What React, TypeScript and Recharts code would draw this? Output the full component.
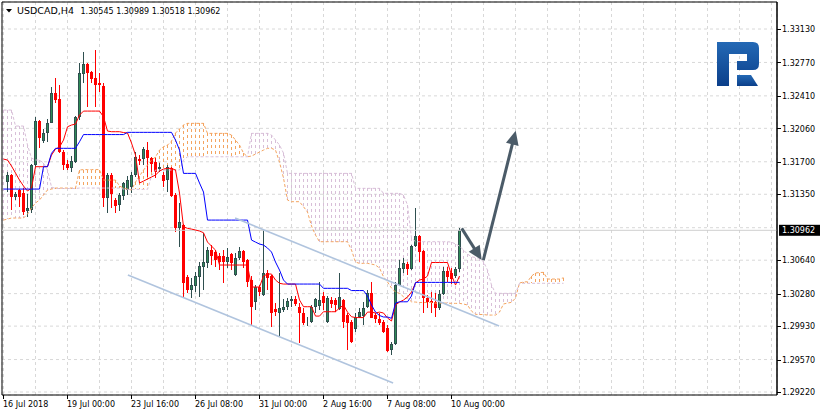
import React from 'react'
import { ComposedChart, Bar, Line, XAxis, YAxis, CartesianGrid, ReferenceLine, ReferenceArea } from 'recharts'

const W = 820
const H = 416
const X_AXIS_H = 21
const AXIS_Y = H - X_AXIS_H
const FONT = '"DejaVu Sans", Verdana, sans-serif'

// price scale as shown by the terminal
const Y_MIN = 1.29188
const Y_MAX = 1.33421
const Y_TICKS = [1.2922, 1.2957, 1.2993, 1.3028, 1.3064, 1.3099, 1.3135, 1.317, 1.3206, 1.3241, 1.3277, 1.3313]
const HIDDEN_TICK = 1.3099 // covered by the current price tag

// bar index scale (H4 bars, 4 px apart)
const X_MIN = -0.375
const X_MAX = 193.375
const X_GRID = [0, 8, 16, 24, 32, 40, 48, 56, 64, 72, 80, 88, 96, 104, 112, 120, 128, 136, 144, 152, 160, 168, 176, 184, 192]
const X_LABELS: Record<number, string> = {
  0: '16 Jul 2018',
  16: '19 Jul 00:00',
  32: '23 Jul 16:00',
  48: '26 Jul 08:00',
  64: '31 Jul 00:00',
  80: '2 Aug 16:00',
  96: '7 Aug 08:00',
  112: '10 Aug 00:00',
}

// OHLC, bar 0 is cut by the left edge
const OPEN = [null,
  1.31482, 1.31557, 1.31320, 1.31396, 1.31360, 1.31173, 1.31180, 1.31665, 1.32139, 1.31927,
  1.32006, 1.32120, 1.32437, 1.32372, 1.31808, 1.31676, 1.31629, 1.31700, 1.32179, 1.32645,
  1.32753, 1.32670, 1.32599, 1.32551, 1.32516, 1.31306, 1.31557, 1.31288, 1.31234, 1.31331,
  1.31396, 1.31428, 1.31557, 1.31729, 1.31726, 1.31826, 1.31743, 1.31700, 1.31618, 1.31557,
  1.31503, 1.31629, 1.31342, 1.30983, 1.31019, 1.30462, 1.30318, 1.30362, 1.30462, 1.30569,
  1.30612, 1.30749, 1.30728, 1.30688, 1.30688, 1.30623, 1.30706, 1.30480, 1.30660, 1.30742,
  1.30641, 1.30426, 1.30192, 1.30351, 1.30265, 1.30498, 1.30469, 1.30114, 1.30074, 1.30103,
  1.30139, 1.30203, 1.30218, 1.30139, 1.30074, 1.29960, 1.29977, 1.30139, 1.30146, 1.30254,
  1.29977, 1.30211, 1.30211, 1.30111, 1.30211, 1.30049, 1.29977, 1.29895, 1.30031, 1.30042,
  1.30139, 1.30283, 1.30049, 1.30006, 1.29977, 1.29906, 1.29672, 1.29734, 1.30372, 1.30545,
  1.30599, 1.30545, 1.30796, 1.30903, 1.30739, 1.30236, 1.30200, 1.30186, 1.30121, 1.30272,
  1.30523, 1.30502, 1.30472, 1.30545]

const HIGH = [null,
  1.31593, 1.31568, 1.31377, 1.31403, 1.31414, 1.31352, 1.31676, 1.32185, 1.32150, 1.32049,
  1.32157, 1.32508, 1.32599, 1.32527, 1.31826, 1.31719, 1.31762, 1.32193, 1.32760, 1.32885,
  1.32767, 1.32680, 1.32903, 1.32653, 1.32545, 1.31575, 1.31575, 1.31306, 1.31360, 1.31485,
  1.31546, 1.31589, 1.31808, 1.31772, 1.31855, 1.31916, 1.31754, 1.31737, 1.31686, 1.31593,
  1.31665, 1.31647, 1.31360, 1.31252, 1.31029, 1.30480, 1.30444, 1.30509, 1.30623, 1.30929,
  1.30785, 1.30803, 1.30749, 1.30714, 1.30749, 1.30774, 1.30714, 1.30714, 1.30785, 1.30749,
  1.30652, 1.30469, 1.30372, 1.30372, 1.30965, 1.30534, 1.30480, 1.30178, 1.30502, 1.30218,
  1.30229, 1.30254, 1.30254, 1.30175, 1.30121, 1.30031, 1.30157, 1.30229, 1.30408, 1.30297,
  1.30254, 1.30243, 1.30232, 1.30502, 1.30222, 1.30071, 1.29995, 1.30071, 1.30125, 1.30192,
  1.30318, 1.30401, 1.30071, 1.30067, 1.29995, 1.29941, 1.29762, 1.30408, 1.30641, 1.30660,
  1.30623, 1.30803, 1.31198, 1.30911, 1.30749, 1.30265, 1.30300, 1.30283, 1.30318, 1.30569,
  1.30569, 1.30555, 1.30566, 1.30989]

const LOW = [null,
  1.31377, 1.31180, 1.31288, 1.31216, 1.31126, 1.31108, 1.31145, 1.31647, 1.31845, 1.31899,
  1.31916, 1.32114, 1.32329, 1.31794, 1.31611, 1.31611, 1.31593, 1.31690, 1.32150, 1.32545,
  1.32293, 1.32551, 1.32293, 1.32454, 1.31216, 1.31145, 1.31198, 1.31145, 1.31173, 1.31288,
  1.31342, 1.31363, 1.31539, 1.31665, 1.31665, 1.31539, 1.31593, 1.31521, 1.31589, 1.31431,
  1.31377, 1.31317, 1.30946, 1.30785, 1.30246, 1.30283, 1.30229, 1.30300, 1.30246, 1.30318,
  1.30552, 1.30588, 1.30569, 1.30534, 1.30397, 1.30552, 1.30534, 1.30469, 1.30641, 1.30555,
  1.30354, 1.29941, 1.30103, 1.30254, 1.30254, 1.30318, 1.29923, 1.30038, 1.29815, 1.30085,
  1.30103, 1.30139, 1.30146, 1.29744, 1.29941, 1.29931, 1.29960, 1.30067, 1.30103, 1.30103,
  1.29963, 1.30125, 1.30081, 1.30103, 1.29906, 1.29672, 1.29744, 1.29866, 1.30017, 1.29941,
  1.30121, 1.30014, 1.29960, 1.29941, 1.29861, 1.29654, 1.29618, 1.29726, 1.30365, 1.30498,
  1.30480, 1.30534, 1.30785, 1.30623, 1.30067, 1.30121, 1.30067, 1.30031, 1.30103, 1.30265,
  1.30408, 1.30383, 1.30448, 1.30518]

const CLOSE = [null,
  1.31557, 1.31320, 1.31352, 1.31323, 1.31162, 1.31202, 1.31665, 1.32139, 1.31952, 1.32006,
  1.32120, 1.32437, 1.32365, 1.31808, 1.31665, 1.31629, 1.31711, 1.32179, 1.32653, 1.32753,
  1.32659, 1.32588, 1.32527, 1.32527, 1.31306, 1.31557, 1.31352, 1.31226, 1.31342, 1.31468,
  1.31503, 1.31557, 1.31754, 1.31713, 1.31834, 1.31737, 1.31676, 1.31593, 1.31647, 1.31496,
  1.31647, 1.31331, 1.30983, 1.31051, 1.30394, 1.30318, 1.30372, 1.30469, 1.30577, 1.30623,
  1.30749, 1.30685, 1.30641, 1.30620, 1.30623, 1.30677, 1.30606, 1.30660, 1.30739, 1.30620,
  1.30408, 1.30135, 1.30348, 1.30297, 1.30498, 1.30444, 1.30067, 1.30081, 1.30121, 1.30139,
  1.30203, 1.30218, 1.30168, 1.30067, 1.29960, 1.29977, 1.30139, 1.30218, 1.30211, 1.30175,
  1.30232, 1.30168, 1.30157, 1.30240, 1.29977, 1.29966, 1.29762, 1.30031, 1.30081, 1.30128,
  1.30283, 1.30020, 1.30006, 1.29960, 1.29869, 1.29661, 1.29734, 1.30372, 1.30552, 1.30606,
  1.30545, 1.30796, 1.30903, 1.30725, 1.30229, 1.30186, 1.30175, 1.30121, 1.30272, 1.30523,
  1.30462, 1.30437, 1.30545, 1.30962]

// Ichimoku lines
const TENKAN = [
  1.31729, 1.31719, 1.31654, 1.31579, 1.31503, 1.31439, 1.31385, 1.31417, 1.31647, 1.31647,
  1.31647, 1.31647, 1.31772, 1.31837, 1.31859, 1.31934, 1.32077, 1.32096, 1.32106, 1.32203,
  1.32246, 1.32246, 1.32246, 1.32246, 1.32246, 1.32185, 1.32031, 1.32024, 1.32024, 1.32024,
  1.32015, 1.32010, 1.31902, 1.31772, 1.31471, 1.31492, 1.31514, 1.31536, 1.31557, 1.31600,
  1.31622, 1.31629, 1.31629, 1.31611, 1.31363, 1.31000, 1.30983, 1.30975, 1.30965, 1.30954,
  1.30936, 1.30835, 1.30792, 1.30749, 1.30588, 1.30588, 1.30588, 1.30588, 1.30588, 1.30588,
  1.30588, 1.30588, 1.30351, 1.30351, 1.30351, 1.30469, 1.30491, 1.30491, 1.30426, 1.30391,
  1.30383, 1.30383, 1.30383, 1.30383, 1.30211, 1.30139, 1.30139, 1.30139, 1.30038, 1.30038,
  1.30085, 1.30085, 1.30085, 1.30085, 1.30125, 1.30157, 1.30081, 1.30031, 1.30022, 1.30022,
  1.30022, 1.30081, 1.30081, 1.30071, 1.30081, 1.30071, 1.30017, 1.29985, 1.30157, 1.30189,
  1.30211, 1.30243, 1.30297, 1.30394, 1.30426, 1.30437, 1.30469, 1.30615, 1.30615, 1.30615,
  1.30615, 1.30615, 1.30480, 1.30372, 1.30469]

const KIJUN = [
  1.31406, 1.31406, 1.31406, 1.31406, 1.31406, 1.31406, 1.31406, 1.31406, 1.31406, 1.31406,
  1.31647, 1.31647, 1.31791, 1.31845, 1.31845, 1.31845, 1.31845, 1.31845, 1.31845, 1.31916,
  1.31993, 1.31993, 1.31993, 1.31993, 1.31993, 1.31993, 1.31993, 1.31993, 1.31993, 1.31993,
  1.31993, 1.32017, 1.32017, 1.32017, 1.32017, 1.32017, 1.32017, 1.32017, 1.32017, 1.32017,
  1.32017, 1.32017, 1.32017, 1.31934, 1.31826, 1.31575, 1.31575, 1.31575, 1.31575, 1.31471,
  1.31374, 1.31072, 1.31072, 1.31072, 1.31072, 1.31072, 1.31072, 1.31072, 1.31072, 1.31072,
  1.31072, 1.31072, 1.30857, 1.30835, 1.30814, 1.30803, 1.30771, 1.30728, 1.30620, 1.30534,
  1.30426, 1.30383, 1.30383, 1.30383, 1.30383, 1.30383, 1.30383, 1.30383, 1.30383, 1.30383,
  1.30337, 1.30337, 1.30337, 1.30337, 1.30337, 1.30337, 1.30337, 1.30313, 1.30313, 1.30313,
  1.30313, 1.30254, 1.30157, 1.30081, 1.30044, 1.30028, 1.30028, 1.30014, 1.30178, 1.30192,
  1.30192, 1.30192, 1.30254, 1.30401, 1.30401, 1.30401, 1.30401, 1.30401, 1.30401, 1.30401,
  1.30401, 1.30401, 1.30401, 1.30401, 1.30401]

// cloud, shifted 26 bars ahead
const SPAN_A = [
  1.31072, 1.31083, 1.31094, 1.31094, 1.31094, 1.31094, 1.31137, 1.31202, 1.31256, 1.31288,
  1.31342, 1.31396, 1.31406, 1.31417, 1.31417, 1.31417, 1.31417, 1.31417, 1.31417, 1.31611,
  1.31616, 1.31616, 1.31616, 1.31616, 1.31616, 1.31503, 1.31503, 1.31503, 1.31503, 1.31439,
  1.31417, 1.31406, 1.31396, 1.31482, 1.31546, 1.31611, 1.31665, 1.31719, 1.31751, 1.31826,
  1.31862, 1.31880, 1.31923, 1.32010, 1.32053, 1.32096, 1.32114, 1.32114, 1.32114, 1.32114,
  1.32114, 1.32006, 1.32006, 1.32006, 1.32006, 1.32006, 1.32006, 1.31988, 1.31934, 1.31880,
  1.31794, 1.31754, 1.31762, 1.31783, 1.31805, 1.31826, 1.31845, 1.31845, 1.31826, 1.31697,
  1.31525, 1.31288, 1.31270, 1.31270, 1.31270, 1.31216, 1.31159, 1.31008, 1.30911, 1.30839,
  1.30839, 1.30839, 1.30839, 1.30839, 1.30839, 1.30839, 1.30839, 1.30749, 1.30620, 1.30606,
  1.30606, 1.30606, 1.30598, 1.30588, 1.30555, 1.30462, 1.30405, 1.30340, 1.30297, 1.30283,
  1.30246, 1.30232, 1.30192, 1.30189, 1.30184, 1.30184, 1.30184, 1.30184, 1.30178, 1.30178,
  1.30178, 1.30178, 1.30175, 1.30175, 1.30175, 1.30168, 1.30157, 1.30092, 1.30057, 1.30055,
  1.30055, 1.30049, 1.30049, 1.30049, 1.30081, 1.30168, 1.30178, 1.30186, 1.30232, 1.30394,
  1.30405, 1.30408, 1.30469, 1.30502, 1.30507, 1.30509, 1.30437, 1.30437, 1.30437, 1.30437,
  1.30451]

const SPAN_B = [
  1.32257, 1.32257, 1.32257, 1.32085, 1.32085, 1.32085, 1.31880, 1.31740, 1.31719, 1.31719,
  1.31686, 1.31611, 1.31428, 1.31412, 1.31412, 1.31412, 1.31412, 1.31412, 1.31412, 1.31417,
  1.31417, 1.31417, 1.31417, 1.31417, 1.31417, 1.31417, 1.31417, 1.31417, 1.31417, 1.31417,
  1.31406, 1.31403, 1.31403, 1.31403, 1.31403, 1.31403, 1.31403, 1.31546, 1.31611, 1.31611,
  1.31611, 1.31611, 1.31611, 1.31611, 1.31611, 1.31719, 1.31754, 1.31754, 1.31754, 1.31754,
  1.31754, 1.31754, 1.31754, 1.31754, 1.31754, 1.31754, 1.31754, 1.31754, 1.31754, 1.31754,
  1.31754, 1.31754, 1.32006, 1.32006, 1.32006, 1.32006, 1.32006, 1.31988, 1.31934, 1.31880,
  1.31794, 1.31575, 1.31575, 1.31575, 1.31575, 1.31575, 1.31575, 1.31575, 1.31575, 1.31575,
  1.31575, 1.31575, 1.31575, 1.31575, 1.31575, 1.31575, 1.31575, 1.31575, 1.31414, 1.31414,
  1.31414, 1.31414, 1.31414, 1.31414, 1.31414, 1.31360, 1.31360, 1.31360, 1.31360, 1.31360,
  1.31342, 1.31234, 1.30879, 1.30839, 1.30839, 1.30839, 1.30839, 1.30839, 1.30839, 1.30839,
  1.30839, 1.30839, 1.30835, 1.30814, 1.30792, 1.30749, 1.30706, 1.30677, 1.30669, 1.30660,
  1.30623, 1.30534, 1.30372, 1.30283, 1.30283, 1.30283, 1.30283, 1.30283, 1.30283, 1.30391,
  1.30391, 1.30391, 1.30391, 1.30391, 1.30391, 1.30391, 1.30391, 1.30391, 1.30391, 1.30391,
  1.30391]

// hand-drawn objects: [bar, price] end points
const CHANNEL_LINES = [
  [[57.9, 1.31094], [123.9, 1.29931]],
  [[31.1, 1.30480], [97.4, 1.29317]],
]
const ARROWS = [
  [[114.55, 1.30983], [119.55, 1.30641]],
  [[119.95, 1.30641], [128.05, 1.32034]],
]

const BULL = '#2e8b57'
const BULL_EDGE = '#2f4f4f'
const BEAR = '#ff0000'
const SPAN_A_COLOR = '#f4a460'
const SPAN_B_COLOR = '#d8bfd8'
const ARROW_COLOR = '#4b5b68'

const LAST = OPEN.length - 1
const LAST_PRICE = CLOSE[LAST] as number

const DATA = SPAN_A.map((a, i) => ({
  i,
  o: OPEN[i] ?? null,
  h: HIGH[i] ?? null,
  l: LOW[i] ?? null,
  c: CLOSE[i] ?? null,
  tenkan: TENKAN[i] ?? null,
  kijun: KIJUN[i] ?? null,
  spanA: a,
  spanB: SPAN_B[i],
}))

const candleRange = (d: any) => (d.h == null ? null : [d.l, d.h])
// bullish cloud (span A on top) and bearish cloud (span B on top) are hatched in different colours
const upCloud = (d: any) => (d.spanA >= d.spanB ? [d.spanB, d.spanA] : null)
const downCloud = (d: any) => (d.spanA < d.spanB ? [d.spanA, d.spanB] : null)

function Candle(props: any) {
  const { x, y, width, height, payload } = props
  if (!payload || payload.h == null) return null
  const top = Math.min(y, y + height)
  const span = Math.abs(height)
  const py = (v: number) => top + ((payload.h - v) / (payload.h - payload.l)) * span
  const cx = Math.floor(x + width / 2) + 0.5
  const bull = payload.c >= payload.o
  const bt = Math.round(Math.min(py(payload.o), py(payload.c)))
  const bb = Math.round(Math.max(py(payload.o), py(payload.c)))
  return (
    <g>
      <line x1={cx} x2={cx} y1={Math.round(top)} y2={Math.round(top + span)} stroke={bull ? BULL_EDGE : BEAR} />
      {bull ? (
        <rect x={cx - 1} y={bt + 0.5} width={2} height={Math.max(bb - bt - 1, 0)} fill={BULL} stroke={BULL_EDGE} />
      ) : (
        <rect x={cx - 1.5} y={bt} width={3} height={Math.max(bb - bt, 1)} fill={BEAR} />
      )}
    </g>
  )
}

const hatch = (color: string) => (props: any) => {
  const { x, y, width, height } = props
  if (x == null || y == null) return null
  const cx = Math.floor(x + width / 2) + 0.5
  const top = Math.round(Math.min(y, y + height))
  const bot = Math.round(Math.max(y, y + height))
  return <line x1={cx} x2={cx} y1={top} y2={bot} stroke={color} strokeDasharray="3 3" shapeRendering="crispEdges" />
}

function ArrowShape(props: any) {
  const { x1, y1, x2, y2 } = props
  if (x1 == null || x2 == null) return null
  const dx = x2 - x1
  const dy = y2 - y1
  const len = Math.hypot(dx, dy)
  const ux = dx / len
  const uy = dy / len
  const head = 14
  const half = 6.5
  const bx = x2 - ux * head
  const by = y2 - uy * head
  return (
    <g>
      <line x1={x1} y1={y1} x2={bx + ux} y2={by + uy} stroke={ARROW_COLOR} strokeWidth={3} />
      <polygon
        points={`${x2},${y2} ${bx - uy * half},${by + ux * half} ${bx + uy * half},${by - ux * half}`}
        fill={ARROW_COLOR}
      />
    </g>
  )
}

function XTick(props: any) {
  const { x, payload } = props
  const label = X_LABELS[payload.value]
  if (!label) return null
  const px = Math.floor(x) + 0.5
  return (
    <g>
      <line x1={px} x2={px} y1={AXIS_Y} y2={AXIS_Y + 4} stroke="#000" />
      <text x={px - 0.5} y={AXIS_Y + 12} fontSize={8} fontFamily={FONT} fill="#000">{label}</text>
    </g>
  )
}

function YTick(props: any) {
  const { x, y, payload } = props
  if (payload.value === HIDDEN_TICK) return null
  const py = Math.round(y) + 0.5
  return (
    <g>
      <line x1={x} x2={x + 4} y1={py} y2={py} stroke="#000" />
      <text x={x + 5} y={y + 3.2} fontSize={8} fontFamily={FONT} fill="#000">{payload.value.toFixed(5)}</text>
    </g>
  )
}

function PriceTag(props: any) {
  const { viewBox } = props
  if (!viewBox) return null
  const x0 = viewBox.x + viewBox.width + 2
  const yy = viewBox.y
  return (
    <g>
      <rect x={x0} y={yy - 5.5} width={41} height={11} fill="#000" />
      <text x={x0 + 3} y={yy + 3.2} fontSize={8} fontFamily={FONT} fill="#fff">{LAST_PRICE.toFixed(5)}</text>
    </g>
  )
}

export default function App() {
  const fmt = (v: any) => (v as number).toFixed(5)
  return (
    <div style={{ position: 'absolute', left: 0, top: 0, width: W, height: H, background: '#fff' }}>
      <ComposedChart width={W} height={H} data={DATA} margin={{ top: 2, right: 0, bottom: 0, left: 2 }}>
        <XAxis
          xAxisId="main" type="number" dataKey="i" domain={[X_MIN, X_MAX]} allowDataOverflow
          ticks={X_GRID} interval={0} tick={XTick} tickLine={false} tickSize={0} tickMargin={0}
          height={X_AXIS_H} axisLine={{ stroke: '#000' }}
        />
        <XAxis xAxisId="cloudUp" type="number" dataKey="i" domain={[X_MIN, X_MAX]} allowDataOverflow hide />
        <XAxis xAxisId="cloudDown" type="number" dataKey="i" domain={[X_MIN, X_MAX]} allowDataOverflow hide />
        <YAxis
          orientation="right" type="number" domain={[Y_MIN, Y_MAX]} allowDataOverflow
          ticks={Y_TICKS} interval={0} tick={YTick} tickLine={false} tickSize={0} tickMargin={0}
          width={43} axisLine={{ stroke: '#000' }}
        />
        <CartesianGrid xAxisId="main" stroke="#d8d8d8" strokeDasharray="3 3" />
        <ReferenceLine xAxisId="main" y={LAST_PRICE} stroke="#cfcfcf" label={<PriceTag />} />

        <Bar xAxisId="cloudUp" dataKey={upCloud} barSize={3} shape={hatch(SPAN_A_COLOR)} isAnimationActive={false} />
        <Bar xAxisId="cloudDown" dataKey={downCloud} barSize={3} shape={hatch(SPAN_B_COLOR)} isAnimationActive={false} />
        <Line xAxisId="main" type="linear" dataKey="spanA" stroke={SPAN_A_COLOR} strokeDasharray="3 2"
          dot={false} activeDot={false} strokeWidth={1} isAnimationActive={false} />
        <Line xAxisId="main" type="linear" dataKey="spanB" stroke={SPAN_B_COLOR} strokeDasharray="3 2"
          dot={false} activeDot={false} strokeWidth={1} isAnimationActive={false} />

        <Bar xAxisId="main" dataKey={candleRange} barSize={3} shape={Candle} isAnimationActive={false} />

        <Line xAxisId="main" type="linear" dataKey="tenkan" stroke="#ff0000" dot={false} activeDot={false}
          strokeWidth={1} isAnimationActive={false} />
        <Line xAxisId="main" type="linear" dataKey="kijun" stroke="#0000ff" dot={false} activeDot={false}
          strokeWidth={1} isAnimationActive={false} />

        {CHANNEL_LINES.map((seg, n) => (
          <ReferenceLine key={`ch${n}`} xAxisId="main" ifOverflow="visible"
            segment={[{ x: seg[0][0], y: seg[0][1] }, { x: seg[1][0], y: seg[1][1] }]}
            stroke="#b0c4de" strokeWidth={1.6} />
        ))}
        {ARROWS.map((seg, n) => (
          <ReferenceLine key={`ar${n}`} xAxisId="main" ifOverflow="visible"
            segment={[{ x: seg[0][0], y: seg[0][1] }, { x: seg[1][0], y: seg[1][1] }]}
            shape={ArrowShape} />
        ))}

        <ReferenceArea xAxisId="main" x1={X_MIN} x2={X_MAX} y1={Y_MIN} y2={Y_MAX}
          fill="none" stroke="#000" ifOverflow="visible" />
      </ComposedChart>

      <svg width={W} height={H} style={{ position: 'absolute', left: 0, top: 0, pointerEvents: 'none' }}>
        <defs>
          <linearGradient id="logoBlue" x1="0" y1="0" x2="0" y2="1">
            <stop offset="0%" stopColor="#2469b5" />
            <stop offset="100%" stopColor="#0b3f8a" />
          </linearGradient>
        </defs>
        <polygon points="6,9 12,9 9,12.5" fill="#000" />
        <text x={17} y={14} fontSize={9.5} fontFamily={FONT} fill="#000">USDCAD,H4</text>
        <text x={80.5} y={14} fontSize={8} fontFamily={FONT} fill="#000">
          {`${fmt(OPEN[LAST])} ${fmt(HIGH[LAST])} ${fmt(LOW[LAST])} ${fmt(CLOSE[LAST])}`}
        </text>
        <path d="M717,42 H753 Q759,42 759,48 V64 Q759,70 753,70 H737 V61 H747 V54 H729 V86 H717 Z" fill="url(#logoBlue)" />
        <path d="M737,75 H751 L758,86 H737 Z" fill="url(#logoBlue)" />
      </svg>
    </div>
  )
}
